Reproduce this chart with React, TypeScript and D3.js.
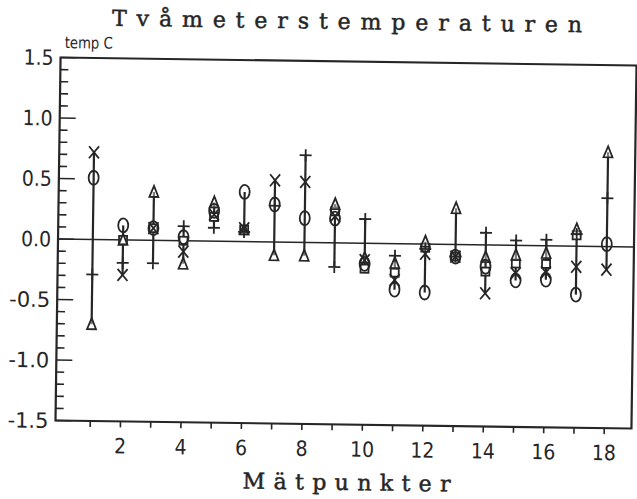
import React from "react";
import * as d3 from "d3";

// Measurement points along the x axis
const points = d3.range(1, 19);

// Five series per measurement point (null where a value is not recorded)
const circleVals = [0.51, 0.12, 0.1, 0.03, 0.25, 0.41, 0.31, 0.2, 0.2, -0.17, -0.38, -0.4, -0.1, -0.18, -0.29, -0.28, -0.4, 0.02];
const crossVals = [0.72, -0.29, 0.1, -0.09, 0.22, 0.11, 0.51, 0.5, 0.22, -0.14, -0.3, -0.08, -0.1, -0.4, -0.23, -0.22, -0.17, -0.19];
const triangleVals = [-0.7, 0.0, 0.4, -0.19, 0.32, 0.1, -0.11, -0.11, 0.32, -0.12, -0.16, 0.02, 0.3, -0.1, -0.08, -0.06, 0.14, 0.78];
const plusVals = [-0.29, -0.19, -0.19, 0.12, 0.11, 0.08, 0.3, 0.72, -0.2, 0.2, -0.1, -0.04, -0.1, 0.1, 0.04, 0.05, 0.1, 0.4];
const squareVals = [null, 0.0, 0.1, 0.0, 0.2, 0.1, null, null, 0.26, -0.21, -0.24, -0.03, -0.1, -0.22, -0.15, -0.15, 0.09, null];

const yTickLabels = ["1.5", "1.0", "0.5", "0.0", "-0.5", "-1.0", "-1.5"];
const xTickLabels = ["2", "4", "6", "8", "10", "12", "14", "16", "18"];

const W = 637;
const H = 499;
const INK = "#262626";

export default function App() {
  const x = d3.scaleLinear().domain([-0.15, 18.9]).range([58, 634]);
  const y = d3.scaleLinear().domain([-1.5, 1.5]).range([424.5, 61.5]);

  const x0 = x.range()[0];
  const x1 = x.range()[1];
  const yTop = y(1.5);
  const yBot = y(-1.5);

  const minorTicks = d3.range(-15, 16).map((d) => d / 10);
  const allSeries = [circleVals, crossVals, triangleVals, plusVals, squareVals];

  const ranges = points.map((p, i) => {
    const vals = allSeries.map((s) => s[i]).filter((v) => v !== null) as number[];
    return { p, lo: d3.min(vals) as number, hi: d3.max(vals) as number };
  });

  const sw = 1.8;
  const slabFont = "'DejaVu Serif', 'Liberation Serif', serif";
  const sansFont = "'DejaVu Sans', sans-serif";

  // narrow labels: width per character
  const labelWidth = (s: string) => s.split("").reduce((a, c) => a + (c === "." ? 6 : c === "-" ? 11 : 12), 0);

  return (
    <svg width={W} height={H} viewBox={`0 0 ${W} ${H}`} style={{ display: "block", position: "absolute", left: 0, top: 0, background: "#fff" }}>
      <g transform="rotate(0.8 346 243)">
        <text x={344} y={29} textAnchor="middle" fontFamily={slabFont} fontSize={22} fill={INK} stroke={INK} strokeWidth={0.5} textLength={470} lengthAdjust="spacing">
          Tvåmeterstemperaturen
        </text>

        <text x={62} y={52} fontFamily={sansFont} fontSize={16} fill={INK} textLength={48} lengthAdjust="spacingAndGlyphs">
          temp C
        </text>

        {/* frame */}
        <rect x={x0} y={yTop} width={x1 - x0} height={yBot - yTop} fill="none" stroke={INK} strokeWidth={2.2} />

        {/* y ticks pointing inward */}
        {minorTicks.map((t) => {
          const major = Math.abs(Math.round(t * 10) % 5) === 0;
          return (
            <line key={`yt${t}`} x1={x0} x2={x0 + (major ? 16 : 8)} y1={y(t)} y2={y(t)} stroke={INK} strokeWidth={1.6} />
          );
        })}

        {yTickLabels.map((lab) => (
          <text key={`yl${lab}`} x={51 - labelWidth(lab)} y={y(+lab)} dy="0.36em" fontFamily={sansFont} fontSize={21} fill={INK} textLength={labelWidth(lab)} lengthAdjust="spacingAndGlyphs">
            {lab}
          </text>
        ))}

        {/* x ticks below the frame */}
        {points.map((p) => (
          <line key={`xt${p}`} x1={x(p)} x2={x(p)} y1={yBot} y2={yBot + 6} stroke={INK} strokeWidth={1.6} />
        ))}
        {xTickLabels.map((lab) => (
          <text key={`xl${lab}`} x={x(+lab) - labelWidth(lab) / 2} y={yBot + 32} fontFamily={sansFont} fontSize={21} fill={INK} textLength={labelWidth(lab)} lengthAdjust="spacingAndGlyphs">
            {lab}
          </text>
        ))}

        <text x={350} y={490} textAnchor="middle" fontFamily={slabFont} fontSize={22} fill={INK} stroke={INK} strokeWidth={0.5} textLength={208} lengthAdjust="spacing">
          Mätpunkter
        </text>

        {/* zero reference line */}
        <line x1={x0} x2={x1} y1={y(0)} y2={y(0)} stroke={INK} strokeWidth={1.6} />

        {/* high-low lines */}
        {ranges.map((r) => (
          <line key={`hl${r.p}`} x1={x(r.p)} x2={x(r.p)} y1={y(r.hi)} y2={y(r.lo)} stroke={INK} strokeWidth={2.2} />
        ))}

        {/* markers */}
        {points.map((p, i) => {
          const cx = x(p);
          const els: React.ReactNode[] = [];
          const sq = squareVals[i];
          if (sq !== null) {
            els.push(<rect key="s" x={cx - 4} y={y(sq) - 4} width={8} height={8} fill="#fff" stroke={INK} strokeWidth={sw} />);
          }
          const ty = y(triangleVals[i]);
          els.push(
            <path key="t" d={`M${cx},${ty - 6}L${cx + 4.5},${ty + 5}L${cx - 4.5},${ty + 5}Z`} fill="#fff" fillOpacity={0.4} stroke={INK} strokeWidth={sw} />
          );
          els.push(<ellipse key="c" cx={cx} cy={y(circleVals[i])} rx={5} ry={7} fill="none" stroke={INK} strokeWidth={sw} />);
          const cy = y(crossVals[i]);
          els.push(
            <path key="x" d={`M${cx - 5},${cy - 6}L${cx + 5},${cy + 6}M${cx + 5},${cy - 6}L${cx - 5},${cy + 6}`} stroke={INK} strokeWidth={sw} fill="none" />
          );
          const py = y(plusVals[i]);
          els.push(
            <path key="p" d={`M${cx - 6},${py}L${cx + 6},${py}M${cx},${py - 6}L${cx},${py + 6}`} stroke={INK} strokeWidth={sw} fill="none" />
          );
          return <g key={`m${p}`}>{els}</g>;
        })}
      </g>
    </svg>
  );
}
